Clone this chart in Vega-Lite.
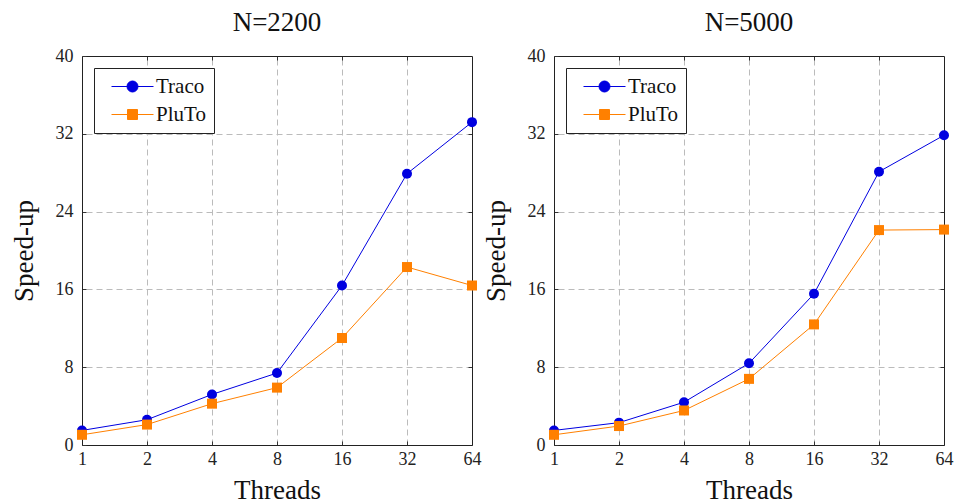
{
  "$schema": "https://vega.github.io/schema/vega-lite/v6.json",
  "background": "white",
  "padding": {"left": 10, "top": 9, "right": 5, "bottom": 3},
  "config": {
    "font": "Liberation Serif",
    "view": {"stroke": null},
    "axis": {
      "domain": true,
      "domainColor": "#222",
      "domainWidth": 1,
      "tickColor": "#333",
      "tickWidth": 1,
      "tickSize": -4,
      "labelColor": "#222",
      "labelFontSize": 18,
      "labelFlush": false,
      "titleColor": "#111",
      "titleFontSize": 27,
      "titleFontWeight": "normal",
      "gridColor": "#bbbbbb",
      "gridDash": [6, 4],
      "gridWidth": 1
    },
    "title": {"fontSize": 27, "fontWeight": "normal", "color": "#111", "offset": 10}
  },
  "datasets": {
    "speed": [
      {"N": 2200, "threads": 1, "impl": "Traco", "speedup": 1.5},
      {"N": 2200, "threads": 2, "impl": "Traco", "speedup": 2.6},
      {"N": 2200, "threads": 4, "impl": "Traco", "speedup": 5.2},
      {"N": 2200, "threads": 8, "impl": "Traco", "speedup": 7.4},
      {"N": 2200, "threads": 16, "impl": "Traco", "speedup": 16.4},
      {"N": 2200, "threads": 32, "impl": "Traco", "speedup": 27.9},
      {"N": 2200, "threads": 64, "impl": "Traco", "speedup": 33.2},
      {"N": 2200, "threads": 1, "impl": "PluTo", "speedup": 1.05},
      {"N": 2200, "threads": 2, "impl": "PluTo", "speedup": 2.1},
      {"N": 2200, "threads": 4, "impl": "PluTo", "speedup": 4.25},
      {"N": 2200, "threads": 8, "impl": "PluTo", "speedup": 5.9},
      {"N": 2200, "threads": 16, "impl": "PluTo", "speedup": 11.0},
      {"N": 2200, "threads": 32, "impl": "PluTo", "speedup": 18.3},
      {"N": 2200, "threads": 64, "impl": "PluTo", "speedup": 16.4},
      {"N": 5000, "threads": 1, "impl": "Traco", "speedup": 1.5},
      {"N": 5000, "threads": 2, "impl": "Traco", "speedup": 2.3},
      {"N": 5000, "threads": 4, "impl": "Traco", "speedup": 4.4},
      {"N": 5000, "threads": 8, "impl": "Traco", "speedup": 8.4},
      {"N": 5000, "threads": 16, "impl": "Traco", "speedup": 15.55},
      {"N": 5000, "threads": 32, "impl": "Traco", "speedup": 28.1},
      {"N": 5000, "threads": 64, "impl": "Traco", "speedup": 31.85},
      {"N": 5000, "threads": 1, "impl": "PluTo", "speedup": 1.05},
      {"N": 5000, "threads": 2, "impl": "PluTo", "speedup": 1.95},
      {"N": 5000, "threads": 4, "impl": "PluTo", "speedup": 3.55},
      {"N": 5000, "threads": 8, "impl": "PluTo", "speedup": 6.8},
      {"N": 5000, "threads": 16, "impl": "PluTo", "speedup": 12.4},
      {"N": 5000, "threads": 32, "impl": "PluTo", "speedup": 22.1},
      {"N": 5000, "threads": 64, "impl": "PluTo", "speedup": 22.15}
    ]
  },
  "resolve": {"legend": {"color": "independent"}},
  "spacing": 1,
  "hconcat": [
    {
      "title": "N=2200",
      "width": 390,
      "height": 389,
      "data": {"name": "speed"},
      "transform": [{"filter": "datum.N === 2200"}],
      "layer": [
        {
          "mark": {"type": "line", "strokeWidth": 1},
          "encoding": {
            "x": {"field": "threads", "type": "quantitative", "scale": {"type": "log", "base": 2, "domain": [1, 64], "nice": false}, "axis": {"values": [1, 2, 4, 8, 16, 32, 64], "format": "d", "title": "Threads", "labelPadding": 9, "titlePadding": 9, "grid": false}},
            "y": {"field": "speedup", "type": "quantitative", "scale": {"domain": [0, 40], "nice": false, "zero": true}, "axis": {"values": [0, 8, 16, 24, 32, 40], "title": "Speed-up", "labelPadding": 13, "titlePadding": 17, "grid": false}},
            "color": {"field": "impl", "type": "nominal", "scale": {"domain": ["Traco", "PluTo"], "range": ["#0000e0", "#ff8000"]},
              "legend": {"title": null, "orient": "top-left", "offset": 12, "padding": 8, "strokeColor": "#222", "fillColor": "white", "cornerRadius": 0, "labelFontSize": 21, "labelColor": "#111", "rowPadding": 6, "symbolOffset": 20, "labelOffset": 13, "symbolSize": 100,
                "encode": {"symbols": {"update": {
                  "shape": {"signal": "datum.value === 'Traco' ? 'M-4.2,0L4.2,0M1.1,0A1.1,1.1,0,1,1,-1.1,0A1.1,1.1,0,1,1,1.1,0Z' : 'M-4.2,0L4.2,0M-1,-1L1,-1L1,1L-1,1Z'"},
                  "fill": {"signal": "datum.value === 'Traco' ? '#0000e0' : '#ff8000'"},
                  "stroke": {"signal": "datum.value === 'Traco' ? '#0000e0' : '#ff8000'"},
                  "strokeWidth": {"value": 1},
                  "size": {"value": 100},
                  "opacity": {"value": 1}
                }}}}
            }
          }
        },
        {
          "mark": {"type": "point", "filled": true, "opacity": 1, "size": 100},
          "encoding": {
            "x": {"field": "threads", "type": "quantitative", "scale": {"type": "log", "base": 2, "domain": [1, 64], "nice": false}, "axis": {"orient": "top", "values": [2, 4, 8, 16, 32], "labels": false, "title": null, "grid": true}},
            "y": {"field": "speedup", "type": "quantitative", "scale": {"domain": [0, 40], "nice": false}, "axis": {"orient": "right", "values": [8, 16, 24, 32], "labels": false, "title": null, "grid": true}},
            "color": {"field": "impl", "type": "nominal", "scale": {"domain": ["Traco", "PluTo"], "range": ["#0000e0", "#ff8000"]}},
            "shape": {"field": "impl", "type": "nominal", "scale": {"domain": ["Traco", "PluTo"], "range": ["circle", "square"]}, "legend": null}
          }
        }
      ],
      "resolve": {"axis": {"x": "independent", "y": "independent"}}
    },
    {
      "title": "N=5000",
      "width": 390,
      "height": 389,
      "data": {"name": "speed"},
      "transform": [{"filter": "datum.N === 5000"}],
      "layer": [
        {
          "mark": {"type": "line", "strokeWidth": 1},
          "encoding": {
            "x": {"field": "threads", "type": "quantitative", "scale": {"type": "log", "base": 2, "domain": [1, 64], "nice": false}, "axis": {"values": [1, 2, 4, 8, 16, 32, 64], "format": "d", "title": "Threads", "labelPadding": 9, "titlePadding": 9, "grid": false}},
            "y": {"field": "speedup", "type": "quantitative", "scale": {"domain": [0, 40], "nice": false, "zero": true}, "axis": {"values": [0, 8, 16, 24, 32, 40], "title": "Speed-up", "labelPadding": 13, "titlePadding": 17, "grid": false}},
            "color": {"field": "impl", "type": "nominal", "scale": {"domain": ["Traco", "PluTo"], "range": ["#0000e0", "#ff8000"]},
              "legend": {"title": null, "orient": "top-left", "offset": 12, "padding": 8, "strokeColor": "#222", "fillColor": "white", "cornerRadius": 0, "labelFontSize": 21, "labelColor": "#111", "rowPadding": 6, "symbolOffset": 20, "labelOffset": 13, "symbolSize": 100,
                "encode": {"symbols": {"update": {
                  "shape": {"signal": "datum.value === 'Traco' ? 'M-4.2,0L4.2,0M1.1,0A1.1,1.1,0,1,1,-1.1,0A1.1,1.1,0,1,1,1.1,0Z' : 'M-4.2,0L4.2,0M-1,-1L1,-1L1,1L-1,1Z'"},
                  "fill": {"signal": "datum.value === 'Traco' ? '#0000e0' : '#ff8000'"},
                  "stroke": {"signal": "datum.value === 'Traco' ? '#0000e0' : '#ff8000'"},
                  "strokeWidth": {"value": 1},
                  "size": {"value": 100},
                  "opacity": {"value": 1}
                }}}}
            }
          }
        },
        {
          "mark": {"type": "point", "filled": true, "opacity": 1, "size": 100},
          "encoding": {
            "x": {"field": "threads", "type": "quantitative", "scale": {"type": "log", "base": 2, "domain": [1, 64], "nice": false}, "axis": {"orient": "top", "values": [2, 4, 8, 16, 32], "labels": false, "title": null, "grid": true}},
            "y": {"field": "speedup", "type": "quantitative", "scale": {"domain": [0, 40], "nice": false}, "axis": {"orient": "right", "values": [8, 16, 24, 32], "labels": false, "title": null, "grid": true}},
            "color": {"field": "impl", "type": "nominal", "scale": {"domain": ["Traco", "PluTo"], "range": ["#0000e0", "#ff8000"]}},
            "shape": {"field": "impl", "type": "nominal", "scale": {"domain": ["Traco", "PluTo"], "range": ["circle", "square"]}, "legend": null}
          }
        }
      ],
      "resolve": {"axis": {"x": "independent", "y": "independent"}}
    }
  ]
}
